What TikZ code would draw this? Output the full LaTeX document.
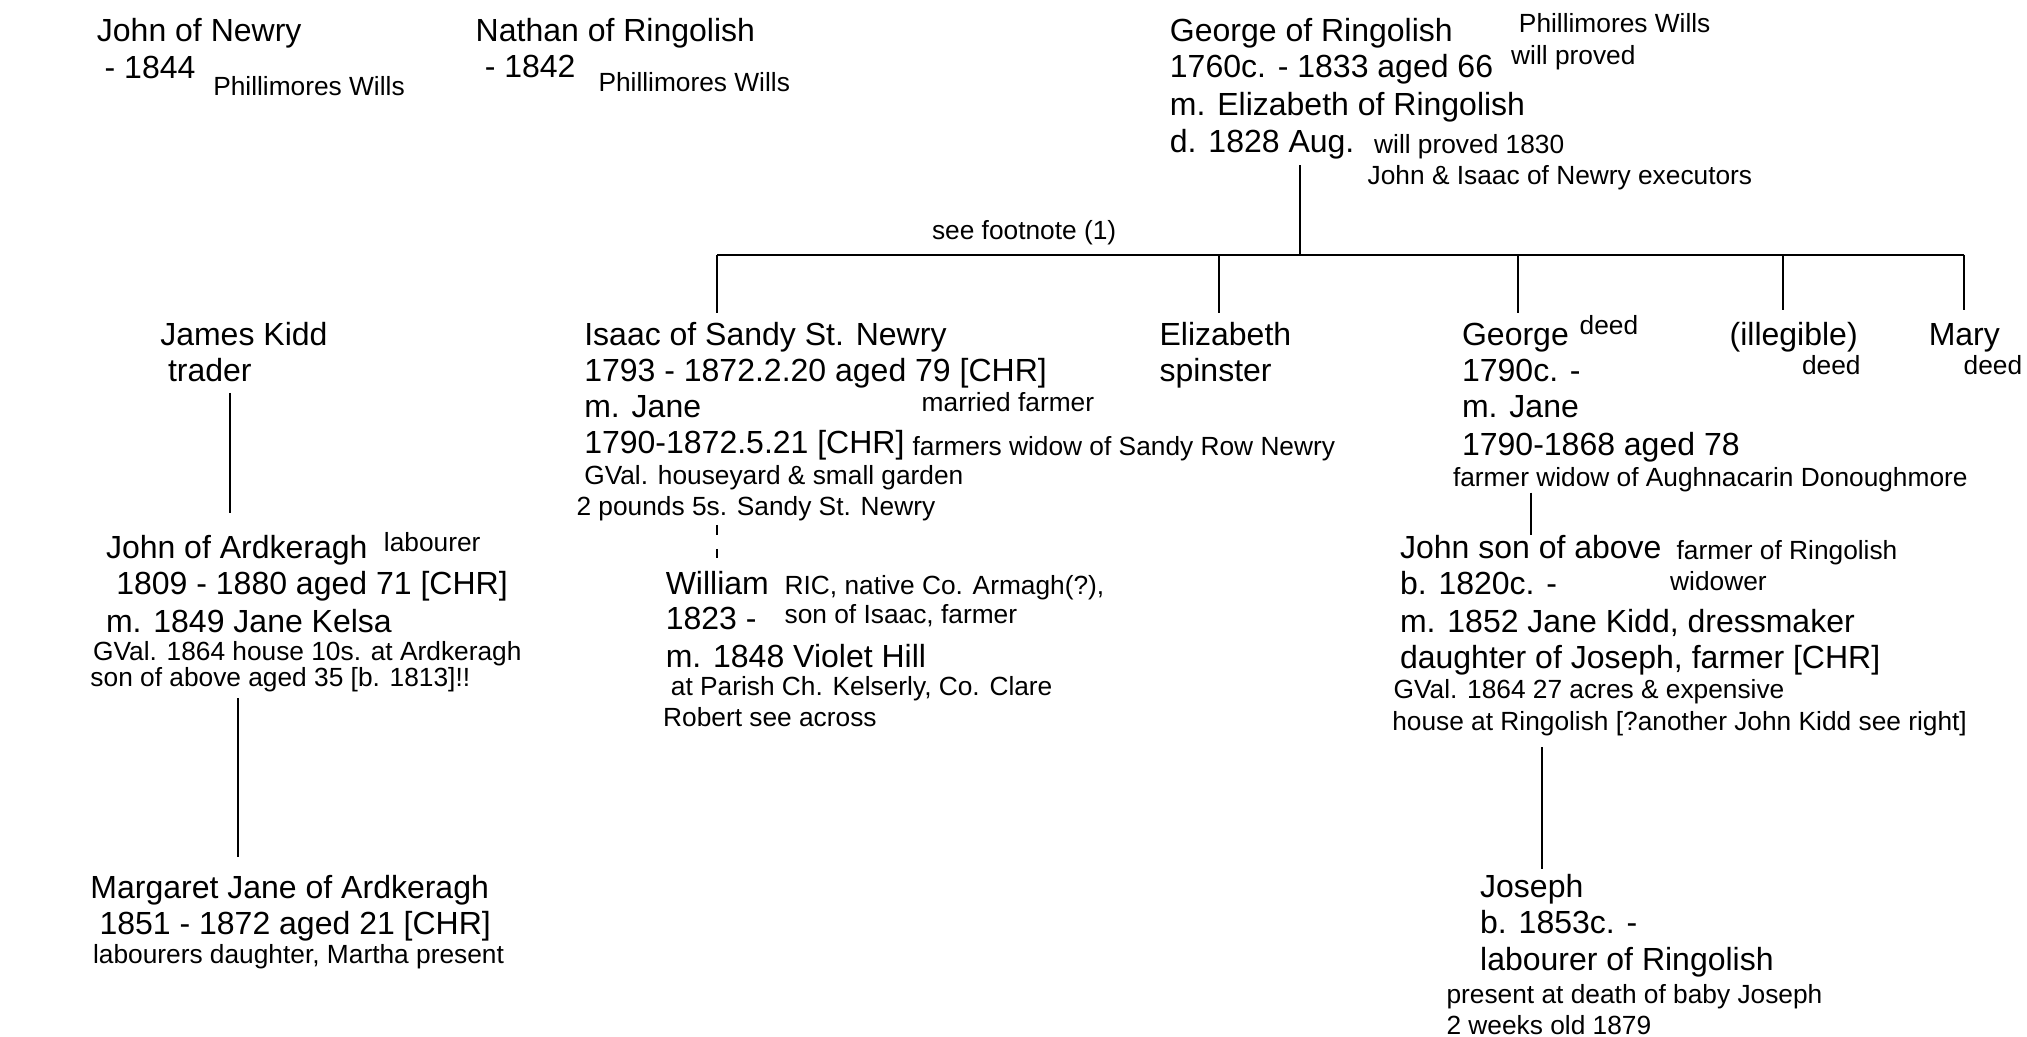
\documentclass[tikz,border=0pt]{standalone}
\usepackage{fontspec}
\setmainfont{Liberation Sans}
\begin{document}
\begin{tikzpicture}[x=0.64635pt,y=-0.64635pt,
  big/.style={font=\fontsize{16}{19}\selectfont, anchor=base west, inner sep=0pt, outer sep=0pt},
  sm/.style={font=\fontsize{13.15}{16}\selectfont, anchor=base west, inner sep=0pt, outer sep=0pt},
  conn/.style={line width=1pt, black},
  dconn/.style={line width=1pt, black, dash pattern=on 5pt off 7pt}]
\useasboundingbox (0,0) rectangle (1568,802);

% top row
\node[big] (jn1) at (75,32) {John of Newry};
\node[big] (jn2) at (81,61) {- 1844};
\node[sm]  (jn3) at (165,74) {Phillimores Wills};

\node[big] (nr1) at (368,32) {Nathan of Ringolish};
\node[big] (nr2) at (375,60) {- 1842};
\node[sm]  (nr3) at (463,71) {Phillimores Wills};

\node[big] (gr1) at (905,32) {George of Ringolish};
\node[big] (gr2) at (905,60) {1760c. - 1833 aged 66};
\node[big] (gr3) at (905,89) {m. Elizabeth of Ringolish};
\node[big] (gr4) at (905,118) {d. 1828 Aug.};
\node[sm]  (gr5) at (1175,25) {Phillimores Wills};
\node[sm]  (gr6) at (1169,50) {will proved};
\node[sm]  (gr7) at (1063,119) {will proved 1830};
\node[sm]  (gr8) at (1058,143) {John \& Isaac of Newry executors};

\node[sm] (foot) at (721,185) {see footnote (1)};

% connectors of George's family
\coordinate (gbot) at (1006,128);
\coordinate (bmid) at (1006,197);
\coordinate (bl) at (555,197);
\coordinate (br) at (1519,197);
\coordinate (bisaac) at (555,197);
\coordinate (beliz) at (943,197);
\coordinate (bgeorge) at (1174,197);
\coordinate (billeg) at (1379,197);
\coordinate (bmary) at (1519,197);
\coordinate (tisaac) at (555,242);
\coordinate (teliz) at (943,242);
\coordinate (tgeorge) at (1174,242);
\coordinate (tilleg) at (1379,240);
\coordinate (tmary) at (1519,240);
\draw[conn] (gbot) -- (bmid);
\draw[conn] (bl) -- (br);
\draw[conn] (bisaac) -- (tisaac);
\draw[conn] (beliz) -- (teliz);
\draw[conn] (bgeorge) -- (tgeorge);
\draw[conn] (billeg) -- (tilleg);
\draw[conn] (bmary) -- (tmary);

% Isaac
\node[big] (is1) at (452,267) {Isaac of Sandy St. Newry};
\node[big] (is2) at (452,295) {1793 - 1872.2.20 aged 79 [CHR]};
\node[big] (is3) at (452,323) {m. Jane};
\node[sm]  (is4) at (713,318) {married farmer};
\node[big] (is5) at (452,351) {1790-1872.5.21 [CHR]};
\node[sm]  (is6) at (706,352) {farmers widow of Sandy Row Newry};
\node[sm]  (is7) at (452,375) {GVal. houseyard \& small garden};
\node[sm]  (is8) at (446,399) {2 pounds 5s. Sandy St. Newry};
\coordinate (isbot) at (555,406);
\coordinate (wtop) at (555,432);
\draw[dconn] (isbot) -- (wtop);

% William
\node[big] (wi1) at (515,460) {William};
\node[sm]  (wi2) at (607,460) {RIC, native Co. Armagh(?),};
\node[big] (wi3) at (515,487) {1823 -};
\node[sm]  (wi4) at (607,482) {son of Isaac, farmer};
\node[big] (wi5) at (515,516) {m. 1848 Violet Hill};
\node[sm]  (wi6) at (519,538) {at Parish Ch. Kelserly, Co. Clare};
\node[sm]  (wi7) at (513,562) {Robert see across};

% Elizabeth
\node[big] (el1) at (897,267) {Elizabeth};
\node[big] (el2) at (897,295) {spinster};

% George junior
\node[big] (gj1) at (1131,267) {George};
\node[sm]  (gj2) at (1222,259) {deed};
\node[big] (gj3) at (1131,295) {1790c. -};
\node[big] (gj4) at (1131,323) {m. Jane};
\node[big] (gj5) at (1131,352) {1790-1868 aged 78};
\node[sm]  (gj6) at (1124,376) {farmer widow of Aughnacarin Donoughmore};
\coordinate (gjbot) at (1184,381);
\coordinate (jstop) at (1184,414);
\draw[conn] (gjbot) -- (jstop);

% illegible, Mary
\node[big] (il1) at (1338,267) {(illegible)};
\node[sm]  (il2) at (1394,290) {deed};
\node[big] (ma1) at (1492,267) {Mary};
\node[sm]  (ma2) at (1519,290) {deed};

% John son of above
\node[big] (js1) at (1083,432) {John son of above};
\node[sm]  (js2) at (1297,433) {farmer of Ringolish};
\node[sm]  (js3) at (1292,457) {widower};
\node[big] (js4) at (1083,460) {b. 1820c. -};
\node[big] (js5) at (1083,489) {m. 1852 Jane Kidd, dressmaker};
\node[big] (js6) at (1083,517) {daughter of Joseph, farmer [CHR]};
\node[sm]  (js7) at (1078,540) {GVal. 1864 27 acres \& expensive};
\node[sm]  (js8) at (1077,565) {house at Ringolish [?another John Kidd see right]};
\coordinate (jsbot) at (1193,578);
\coordinate (jotop) at (1193,672);
\draw[conn] (jsbot) -- (jotop);

% Joseph
\node[big] (jo1) at (1145,694) {Joseph};
\node[big] (jo2) at (1145,722) {b. 1853c. -};
\node[big] (jo3) at (1145,751) {labourer of Ringolish};
\node[sm]  (jo4) at (1119,776) {present at death of baby Joseph};
\node[sm]  (jo5) at (1119,800) {2 weeks old 1879};

% James Kidd
\node[big] (jk1) at (124,267) {James Kidd};
\node[big] (jk2) at (130,295) {trader};
\coordinate (jkbot) at (178,304);
\coordinate (jatop) at (178,397);
\draw[conn] (jkbot) -- (jatop);

% John of Ardkeragh
\node[big] (ja1) at (82,432) {John of Ardkeragh};
\node[sm]  (ja2) at (297,427) {labourer};
\node[big] (ja3) at (90,460) {1809 - 1880 aged 71 [CHR]};
\node[big] (ja4) at (82,489) {m. 1849 Jane Kelsa};
\node[sm]  (ja5) at (72,511) {GVal. 1864 house 10s. at Ardkeragh};
\node[sm]  (ja6) at (70,531) {son of above aged 35 [b. 1813]!!};
\coordinate (jabot) at (184,540);
\coordinate (mjtop) at (184,663);
\draw[conn] (jabot) -- (mjtop);

% Margaret Jane
\node[big] (mj1) at (70,695) {Margaret Jane of Ardkeragh};
\node[big] (mj2) at (77,723) {1851 - 1872 aged 21 [CHR]};
\node[sm]  (mj3) at (72,745) {labourers daughter, Martha present};
\end{tikzpicture}
\end{document}
